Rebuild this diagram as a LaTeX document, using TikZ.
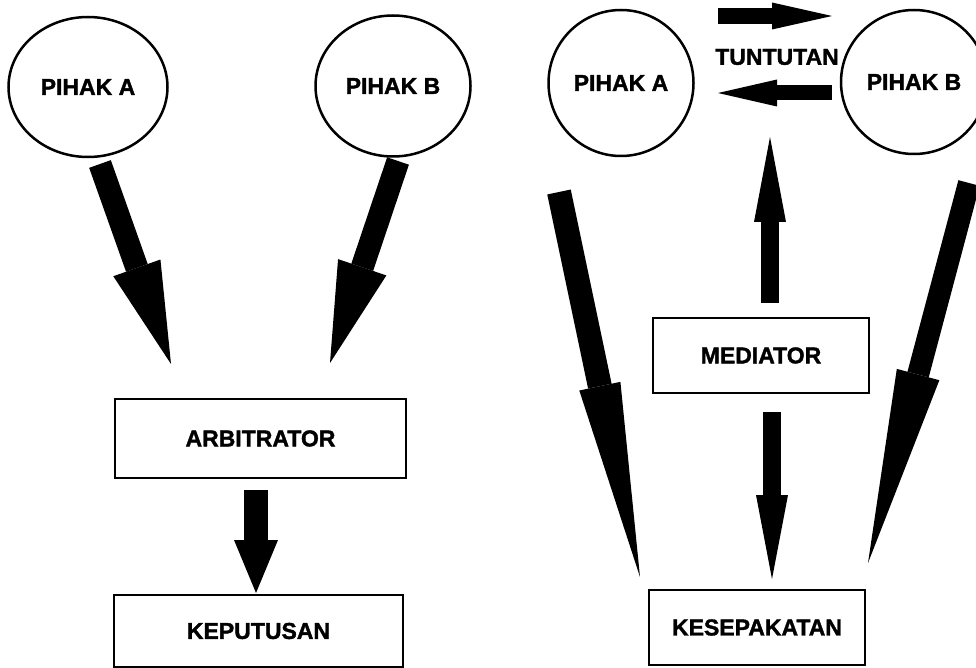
\documentclass[tikz,border=0pt]{standalone}
\usepackage{fontspec}
\setmainfont{Liberation Sans}[BoldFeatures={FakeBold=1.5}]
\usetikzlibrary{arrows.meta,shapes.geometric}
\tikzset{
  lbl/.style={font=\fontsize{23}{25}\selectfont\bfseries},
  party/.style={ellipse,draw,line width=2.5pt,inner sep=0pt,lbl},
  boxnode/.style={rectangle,draw,line width=2.8pt,inner sep=0pt,lbl},
  fat/.style n args={3}{line width=#1,-{Triangle[length=#2,width=#3,line width=0pt]}},
}
\begin{document}
\begin{tikzpicture}[x=1pt,y=-1pt]
\useasboundingbox (0,0) rectangle (976,668);
% left diagram
\node[party,minimum width=159,minimum height=140] (la) at (88,87) {PIHAK A};
\node[party,minimum width=155,minimum height=141] (lb) at (393,86) {PIHAK B};
\node[boxnode,minimum width=291,minimum height=79] (arb) at (260.5,438.5) {ARBITRATOR};
\node[boxnode,minimum width=289,minimum height=72] (kep) at (258.5,631) {KEPUTUSAN};
\coordinate (laS) at (100,164);
\coordinate (laE) at (171,364);
\coordinate (lbS) at (398,161);
\coordinate (lbE) at (330,363);
\coordinate (arbS) at (256,490);
\coordinate (kepE) at (256,593);
\draw[fat={23}{102}{50}] (laS) -- (laE);
\draw[fat={23}{101}{51}] (lbS) -- (lbE);
\draw[fat={24}{53}{44}] (arbS) -- (kepE);
% right diagram
\node[party,minimum width=145,minimum height=146] (ra) at (621,83) {PIHAK A};
\node[party,minimum width=146,minimum height=144] (rb) at (914,82) {PIHAK B};
\node[lbl,inner sep=0pt] (tun) at (777,57) {TUNTUTAN};
\node[boxnode,minimum width=216,minimum height=75] (med) at (761,355.5) {MEDIATOR};
\node[boxnode,minimum width=216,minimum height=75] (kes) at (757,627.5) {KESEPAKATAN};
\coordinate (t1S) at (718,16);
\coordinate (t1E) at (832,16);
\coordinate (t2S) at (832,93);
\coordinate (t2E) at (718,93);
\coordinate (muS) at (770,303);
\coordinate (muE) at (770,137);
\coordinate (mdS) at (772,412);
\coordinate (mdE) at (772,579);
\coordinate (raS) at (559,192);
\coordinate (raE) at (640,577);
\coordinate (rbS) at (969,183);
\coordinate (rbE) at (868,563);
\draw[fat={16}{60}{27}] (t1S) -- (t1E);
\draw[fat={15}{59}{27}] (t2S) -- (t2E);
\draw[fat={18}{85}{32}] (muS) -- (muE);
\draw[fat={18}{84}{32}] (mdS) -- (mdE);
\draw[fat={24}{195}{42}] (raS) -- (raE);
\draw[fat={22}{195}{44}] (rbS) -- (rbE);
\end{tikzpicture}
\end{document}
